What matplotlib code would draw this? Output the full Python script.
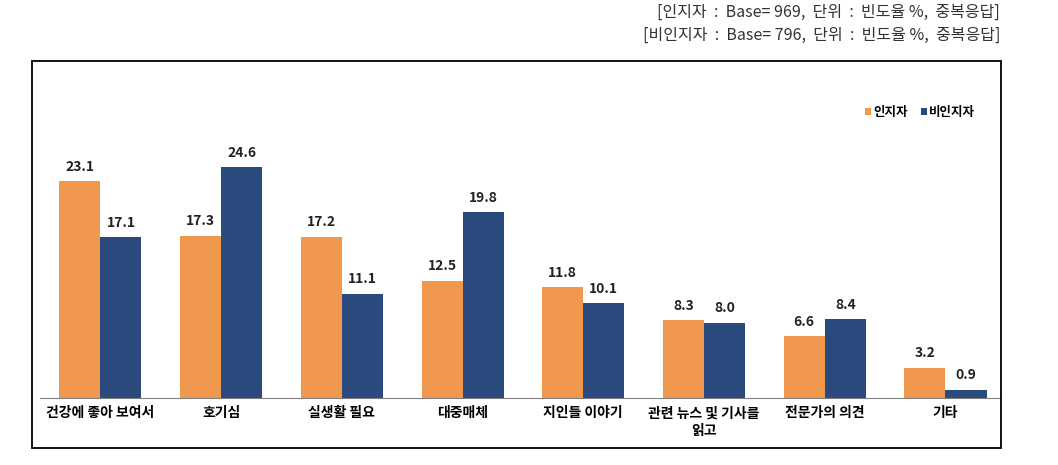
import matplotlib.pyplot as plt
from matplotlib.patches import Rectangle
import numpy as np

plt.rcParams['font.family'] = ['Noto Sans CJK KR', 'DejaVu Sans']

# Data
categories = ['건강에 좋아 보여서', '호기심', '실생활 필요', '대중매체', '지인들 이야기',
              '관련 뉴스 및 기사를\n읽고', '전문가의 의견', '기타']
aware = [23.1, 17.3, 17.2, 12.5, 11.8, 8.3, 6.6, 3.2]
unaware = [17.1, 24.6, 11.1, 19.8, 10.1, 8.0, 8.4, 0.9]
series_names = ['인지자', '비인지자']
notes = ['[인지자  :  Base= 969,  단위  :  빈도율 %,  중복응답]',
         '[비인지자  :  Base= 796,  단위  :  빈도율 %,  중복응답]']

orange = '#F0984E'
navy = '#2A4A7D'

W, H = 1058, 465
fig = plt.figure(figsize=(W / 100, H / 100), dpi=100)

# outer frame around the chart
fig.patches.append(Rectangle((32 / W, 1 - 448 / H), (1001 - 32) / W, (448 - 61) / H,
                             transform=fig.transFigure, fill=False,
                             edgecolor='black', linewidth=1.3))

ax = fig.add_axes([40 / W, 1 - 398 / H, (1001 - 40) / W, (398 - 61) / H])
x = np.arange(len(categories))
bw = 0.34
b1 = ax.bar(x - bw / 2, aware, bw, color=orange, label=series_names[0])
b2 = ax.bar(x + bw / 2, unaware, bw, color=navy, label=series_names[1])

for bars in (b1, b2):
    for r in bars:
        ax.text(r.get_x() + r.get_width() / 2, r.get_height() + 0.8, f'{r.get_height():.1f}',
                ha='center', va='bottom', fontsize=10, fontweight='bold', color='#222222')

ax.set_xlim(-0.5, 7.46)
ax.set_ylim(0, 35.9)
ax.set_yticks([])
ax.set_xticks(x)
ax.set_xticklabels(categories, fontsize=10, fontweight='bold', linespacing=1.35)
ax.tick_params(axis='x', length=0, pad=6)
for s in ['top', 'right', 'left']:
    ax.spines[s].set_visible(False)
ax.spines['bottom'].set_color('#808080')

leg = ax.legend(loc='upper right', bbox_to_anchor=(0.985, 0.9), ncol=2, frameon=False,
                handlelength=0.5, handleheight=0.5, handletextpad=0.2, columnspacing=1.0,
                prop={'size': 9, 'weight': 'bold'})

fig.text(1000 / W, 1 - 12 / H, notes[0], ha='right', va='center', fontsize=11.5, color='#333333')
fig.text(1000 / W, 1 - 35 / H, notes[1], ha='right', va='center', fontsize=11.5, color='#333333')

fig.savefig('out.png', dpi=100)
